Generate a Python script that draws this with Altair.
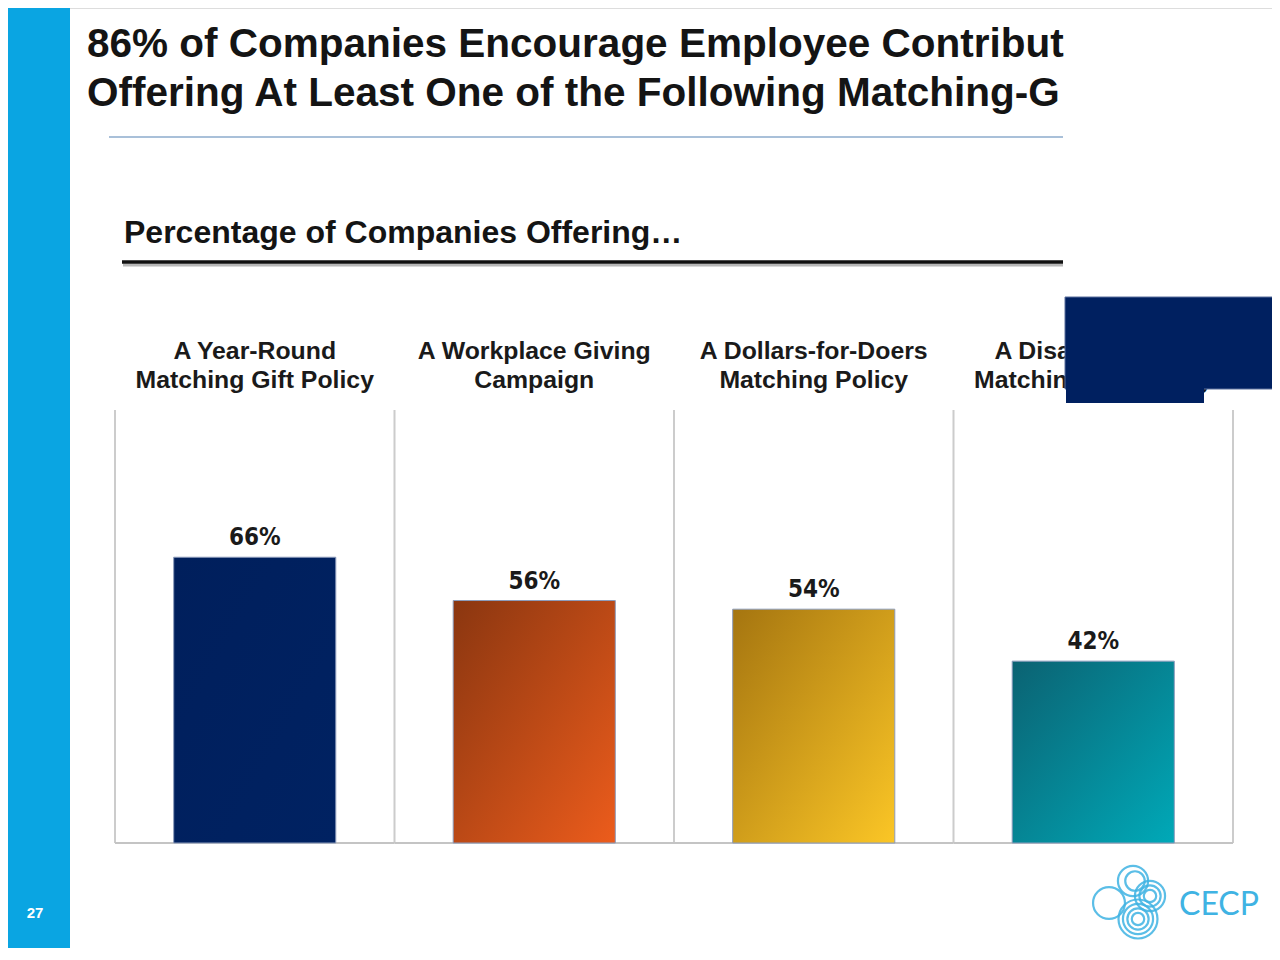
import altair as alt
import pandas as pd

# chart values
categories = [
    "A Year-Round\nMatching Gift Policy",
    "A Workplace Giving\nCampaign",
    "A Dollars-for-Doers\nMatching Policy",
    "A Disaster-Relief\nMatching Gift Policy",
]
values = [66, 56, 54, 42]
value_labels = ["66%", "56%", "54%", "42%"]

title_text = (
    "86% of Companies Encourage Employee Contribut\n"
    "Offering At Least One of the Following Matching-G"
)
subtitle_text = "Percentage of Companies Offering…"
page_number = "27"
logo_text = "CECP"

# bar fills: (top-left, bottom-right)
bar_colors = [
    ("#001f5c", "#002262"),
    ("#8a3610", "#ec5c1c"),
    ("#a57510", "#fbc626"),
    ("#0b6272", "#00a9b8"),
]

W, H = 1264, 940
FONT = "Liberation Sans"
NARROW = "Liberation Sans Narrow, Arial Narrow, DejaVu Sans Condensed, sans-serif"

df = pd.DataFrame({"category": categories, "value": values, "label": value_labels})
one = pd.DataFrame({"k": [0]})

band = alt.Scale(domain=categories, range=[107, 1225], paddingInner=0, paddingOuter=0)
x_band = alt.X("category:N", sort=categories, axis=None, scale=band)
y_pct = alt.Scale(domain=[0, 100], range=[835, 402])

# slide decoration
stripe = alt.Chart(one).mark_rect(color="#0aa5e2").encode(
    x=alt.value(0), x2=alt.value(62), y=alt.value(0), y2=alt.value(H)
)
page_no = alt.Chart(one).mark_text(
    text=page_number, font=FONT, fontSize=15, fontWeight="bold", color="white"
).encode(x=alt.value(27), y=alt.value(905))

title = alt.Chart(one).mark_text(
    text=title_text, lineBreak="\n", font=FONT, fontSize=40.5, fontWeight="bold",
    color="#141414", align="left", baseline="alphabetic", lineHeight=49,
).encode(x=alt.value(79), y=alt.value(49))
title_rule = alt.Chart(one).mark_rule(color="#a9c0d9", strokeWidth=2).encode(
    x=alt.value(101), x2=alt.value(1055), y=alt.value(129)
)
subtitle = alt.Chart(one).mark_text(
    text=subtitle_text, font=FONT, fontSize=32, fontWeight="bold",
    color="#141414", align="left", baseline="alphabetic",
).encode(x=alt.value(116), y=alt.value(235))
sub_shadow = alt.Chart(one).mark_rule(color="#b8b8b8", strokeWidth=3).encode(
    x=alt.value(115), x2=alt.value(1055), y=alt.value(257)
)
sub_rule = alt.Chart(one).mark_rule(color="#111111", strokeWidth=3.5).encode(
    x=alt.value(114), x2=alt.value(1055), y=alt.value(254)
)

# frame: category separators and baseline, on the same band scale
grid_left = alt.Chart(df).mark_rule(color="#cccccc", strokeWidth=2).encode(
    x=alt.X("category:N", sort=categories, axis=None, scale=band, bandPosition=0),
    y=alt.datum(0, scale=y_pct, axis=None),
    y2=alt.datum(100),
)
grid_right = alt.Chart(df.iloc[[-1]]).mark_rule(color="#cccccc", strokeWidth=2).encode(
    x=alt.X("category:N", sort=categories, axis=None, scale=band, bandPosition=1),
    y=alt.datum(0, scale=y_pct, axis=None),
    y2=alt.datum(100),
)
baseline = alt.Chart(df).mark_rule(color="#c4c4c4", strokeWidth=2).encode(
    x=alt.X("category:N", sort=categories, axis=None, scale=band, bandPosition=0),
    x2=alt.X2("category:N", bandPosition=1),
    y=alt.datum(0, scale=y_pct, axis=None),
)

bars = []
for i, (c0, c1) in enumerate(bar_colors):
    bars.append(
        alt.Chart(df.iloc[[i]]).mark_bar(
            width=alt.RelativeBandSize(0.58),
            color=alt.Gradient(
                gradient="linear",
                stops=[alt.GradientStop(color=c0, offset=0), alt.GradientStop(color=c1, offset=1)],
                x1=0, y1=0, x2=1, y2=1,
            ),
            stroke="#8c9cbc",
            strokeWidth=1,
        ).encode(
            x=x_band,
            y=alt.Y("value:Q", scale=y_pct, axis=None),
        )
    )

value_text = alt.Chart(df).mark_text(
    font=NARROW, fontSize=24, fontWeight="bold", color="#1a1a1a",
    baseline="alphabetic", dy=-12,
).encode(
    x=x_band,
    y=alt.Y("value:Q", scale=y_pct, axis=None),
    text="label:N",
)

cat_text = alt.Chart(df).mark_text(
    lineBreak="\n", font=FONT, fontSize=24.8, fontWeight="bold", color="#1a1a1a",
    baseline="alphabetic", lineHeight=29,
).encode(x=x_band, y=alt.value(351), text="category:N")

# navy block sitting over the right edge of the slide
navy_top = alt.Chart(one).mark_rect(color="#002060", stroke="#5a6f9c", strokeWidth=1).encode(
    x=alt.value(1057), x2=alt.value(W + 4), y=alt.value(289), y2=alt.value(381)
)
navy_tab = alt.Chart(one).mark_rect(color="#002060").encode(
    x=alt.value(1058), x2=alt.value(1196), y=alt.value(375), y2=alt.value(395)
)

# logo: interlocking rings + wordmark
ring_x = [1101, 1125, 1127, 1130, 1130, 1130, 1130, 1142, 1142, 1142]
ring_y = [895, 873, 873, 911, 911, 911, 911, 888, 888, 888]
ring_r = [18, 17, 11, 22, 17, 12, 7, 17, 12, 7]
rings = []
for rx, ry, rr in zip(ring_x, ring_y, ring_r):
    rings.append(
        alt.Chart(one).mark_point(
            shape="circle", filled=False, color="#3fb3e3", strokeWidth=2.2, opacity=0.85,
            size=3.1416 * rr * rr,
        ).encode(x=alt.value(rx), y=alt.value(ry))
    )
logo = alt.Chart(one).mark_text(
    text=logo_text, font="Lato", fontSize=32, color="#3fb3e3",
    align="left", baseline="alphabetic",
).encode(x=alt.value(1171), y=alt.value(907))

chart = (
    alt.layer(
        stripe, page_no, title, title_rule, subtitle, sub_shadow, sub_rule,
        grid_left, grid_right, baseline, *bars, value_text, cat_text,
        navy_top, navy_tab, *rings, logo,
    )
    .properties(width=W, height=H, autosize=alt.AutoSizeParams(type="none"), padding=0)
    .configure_view(stroke="transparent", strokeWidth=0)
    .configure(background="white")
)

chart.save("out.html", embed_options={"renderer": "svg", "actions": False})
